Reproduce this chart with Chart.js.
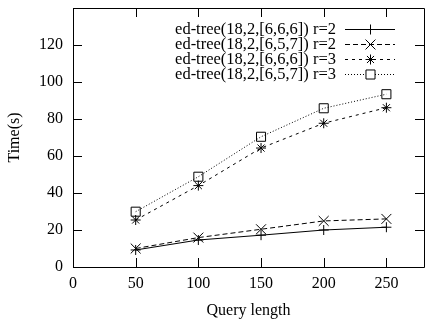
<!DOCTYPE html>
<html>
<head>
<meta charset="utf-8">
<script src="https://cdn.jsdelivr.net/npm/chart.js@4.4.0/dist/chart.umd.min.js"></script>
<style>
  html, body { margin: 0; padding: 0; background: #fff; overflow: hidden; }
  #wrap { width: 432px; height: 320px; }
</style>
</head>
<body>
<div id="wrap"><canvas id="chart" width="432" height="320"></canvas></div>
<script>
// values
const queryLengths = [50, 100, 150, 200, 250];
const tree666r2 = [9.2, 14.6, 17.2, 20.0, 21.5];
const tree657r2 = [10.0, 15.9, 20.4, 24.9, 26.0];
const tree666r3 = [25.4, 44.0, 64.3, 77.7, 86.1];
const tree657r3 = [29.9, 48.8, 70.4, 85.8, 93.4];

const seriesLabels = [
    'ed-tree(18,2,[6,6,6]) r=2',
    'ed-tree(18,2,[6,5,7]) r=2',
    'ed-tree(18,2,[6,6,6]) r=3',
    'ed-tree(18,2,[6,5,7]) r=3'
];

const xTicks = [0, 50, 100, 150, 200, 250];
const yTicks = [0, 20, 40, 60, 80, 100, 120];

const FONT = '"Liberation Serif", "DejaVu Serif", serif';
const FSIZE = 16;

function toPoints(values) {
    return values.map((v, i) => ({ x: queryLengths[i], y: v }));
}

function makeSet(label, values, style, radius, dash) {
    return {
        label: label,
        data: toPoints(values),
        borderColor: '#000',
        backgroundColor: 'rgba(0,0,0,0)',
        borderWidth: 1,
        borderDash: dash,
        pointStyle: style,
        pointRadius: radius,
        pointBorderColor: '#000',
        pointBorderWidth: 1,
        pointBackgroundColor: 'rgba(0,0,0,0)',
        fill: false,
        tension: 0
    };
}

// frame with inward ticks on all four sides, gnuplot style
const framePlugin = {
    id: 'frame',
    afterDraw(chart) {
        const { ctx, chartArea: a, scales } = chart;
        const len = 9;
        ctx.save();
        ctx.strokeStyle = '#000';
        ctx.lineWidth = 1;
        ctx.beginPath();
        ctx.rect(Math.round(a.left) + 0.5, Math.round(a.top) + 0.5,
                 Math.round(a.right - a.left), Math.round(a.bottom - a.top));
        xTicks.forEach(t => {
            const px = Math.round(scales.x.getPixelForValue(t)) + 0.5;
            ctx.moveTo(px, a.bottom); ctx.lineTo(px, a.bottom - len);
            ctx.moveTo(px, a.top); ctx.lineTo(px, a.top + len);
        });
        yTicks.forEach(t => {
            const py = Math.round(scales.y.getPixelForValue(t)) + 0.5;
            ctx.moveTo(a.left, py); ctx.lineTo(a.left + len, py);
            ctx.moveTo(a.right, py); ctx.lineTo(a.right - len, py);
        });
        ctx.stroke();
        ctx.restore();
    }
};

// legend: right aligned text, line sample with marker on its right
const keyPlugin = {
    id: 'key',
    afterDraw(chart) {
        const ctx = chart.ctx;
        const textRight = 336;
        const x0 = 345, x1 = 395;
        const top = 28.5, step = 15;
        ctx.save();
        ctx.font = '16.5px ' + FONT;
        ctx.textAlign = 'right';
        ctx.textBaseline = 'middle';
        chart.data.datasets.forEach((ds, i) => {
            const y = Math.round(top + i * step) + 0.5;
            ctx.fillStyle = '#000';
            ctx.fillText(ds.label, textRight, y);
            ctx.strokeStyle = '#000';
            ctx.lineWidth = 1;
            ctx.setLineDash(ds.borderDash || []);
            ctx.beginPath();
            ctx.moveTo(x0, y); ctx.lineTo(x1, y);
            ctx.stroke();
            ctx.setLineDash([]);
            ctx.fillStyle = '#fff';
            Chart.helpers.drawPoint(ctx, {
                pointStyle: ds.pointStyle, radius: ds.pointRadius, rotation: 0, borderWidth: 1
            }, (x0 + x1) / 2 + 0.5, y);
        });
        ctx.restore();
    }
};

new Chart(document.getElementById('chart'), {
    type: 'line',
    data: {
        datasets: [
            makeSet(seriesLabels[0], tree666r2, 'cross', 5, []),
            makeSet(seriesLabels[1], tree657r2, 'crossRot', 7, [5, 3]),
            makeSet(seriesLabels[2], tree666r3, 'star', 5, [3, 4]),
            makeSet(seriesLabels[3], tree657r3, 'rect', 6.4, [1, 2])
        ]
    },
    plugins: [framePlugin, keyPlugin],
    options: {
        responsive: false,
        animation: false,
        layout: { padding: { top: 8, right: 1, left: 0, bottom: 0 } },
        plugins: {
            legend: { display: false },
            tooltip: { enabled: false }
        },
        scales: {
            x: {
                type: 'linear',
                min: 0,
                max: 280,
                afterBuildTicks: s => { s.ticks = xTicks.map(v => ({ value: v })); },
                afterFit: s => { s.height = 53; s.paddingLeft = 0; s.paddingRight = 0; },
                grid: { display: false, drawTicks: false },
                border: { display: false },
                ticks: { color: '#000', font: { family: FONT, size: FSIZE }, padding: 7, maxRotation: 0 },
                title: { display: true, text: 'Query length', color: '#000',
                         font: { family: FONT, size: FSIZE }, padding: { top: 8, bottom: 0 } }
            },
            y: {
                type: 'linear',
                min: 0,
                max: 140,
                afterBuildTicks: s => { s.ticks = yTicks.map(v => ({ value: v })); },
                afterFit: s => { s.width = 73; s.paddingTop = 0; s.paddingBottom = 0; },
                grid: { display: false, drawTicks: false },
                border: { display: false },
                ticks: { color: '#000', font: { family: FONT, size: FSIZE }, padding: 10 },
                title: { display: true, text: 'Time(s)', color: '#000',
                         font: { family: FONT, size: FSIZE }, padding: { top: 5, bottom: 14 } }
            }
        }
    }
});
</script>
</body>
</html>
